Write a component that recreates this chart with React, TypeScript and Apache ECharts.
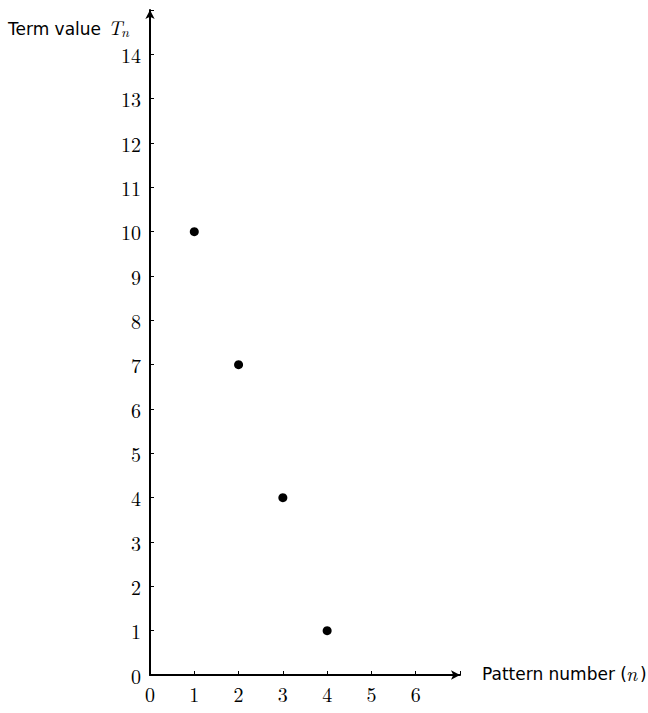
import React, { useEffect, useRef } from "react";
import * as echarts from "echarts";

const patternNumbers = [1, 2, 3, 4];
const termValues = [10, 7, 4, 1];
const xTickLabels = ["0", "1", "2", "3", "4", "5", "6"];
const yTickLabels = ["0", "1", "2", "3", "4", "5", "6", "7", "8", "9", "10", "11", "12", "13", "14"];

export default function App() {
  const ref = useRef<HTMLDivElement>(null);
  useEffect(() => {
    const chart = echarts.init(ref.current!, null, { renderer: "svg" });
    const serif = "'Latin Modern Roman','Liberation Serif','DejaVu Serif',serif";
    const sans = "'DejaVu Sans','Noto Sans',sans-serif";
    const txt = (x: number, y: number, text: string, font: string) => ({
      type: "text",
      x,
      y,
      style: { text, fill: "#000", font, textAlign: "left", textVerticalAlign: "middle", verticalAlign: "middle" },
    });
    chart.setOption({
      animation: false,
      backgroundColor: "#ffffff",
      grid: { left: 150, right: 188, top: 10, bottom: 38 },
      xAxis: {
        type: "value",
        min: 0,
        max: 7,
        interval: 1,
        splitLine: { show: false },
        axisLine: {
          onZero: false,
          symbol: ["none", "arrow"],
          symbolSize: [7, 9],
          lineStyle: { color: "#000", width: 2 },
        },
        axisTick: { inside: true, length: 4, lineStyle: { color: "#000", width: 1 } },
        axisLabel: {
          margin: 8,
          color: "#000",
          fontFamily: serif,
          fontSize: 20,
          formatter: (v: number) => (xTickLabels[v] !== undefined ? xTickLabels[v] : ""),
        },
      },
      yAxis: {
        type: "value",
        min: 0,
        max: 15,
        interval: 1,
        splitLine: { show: false },
        axisLine: {
          onZero: false,
          symbol: ["none", "arrow"],
          symbolSize: [7, 9],
          lineStyle: { color: "#000", width: 2 },
        },
        axisTick: { inside: true, length: 4, lineStyle: { color: "#000", width: 1 } },
        axisLabel: {
          margin: 9,
          color: "#000",
          fontFamily: serif,
          fontSize: 20,
          lineHeight: 18,
          formatter: (v: number) => (yTickLabels[v] !== undefined ? yTickLabels[v] : ""),
        },
      },
      graphic: [
        txt(8, 29, "Term value", `17px ${sans}`),
        txt(108, 26, "T", `italic 20px ${serif}`),
        txt(121, 31, "n", `italic 14px ${serif}`),
        txt(482, 674, "Pattern number (", `17px ${sans}`),
        txt(626, 672, "n", `italic 20px ${serif}`),
        txt(640, 674, ")", `17px ${sans}`),
      ],
      series: [
        {
          type: "scatter",
          data: patternNumbers.map((n, i) => [n, termValues[i]]),
          symbol: "circle",
          symbolSize: 9,
          itemStyle: { color: "#000", opacity: 1 },
        },
      ],
    });
    return () => chart.dispose();
  }, []);
  return <div ref={ref} style={{ position: "absolute", left: 0, top: 0, width: 648, height: 713 }} />;
}
